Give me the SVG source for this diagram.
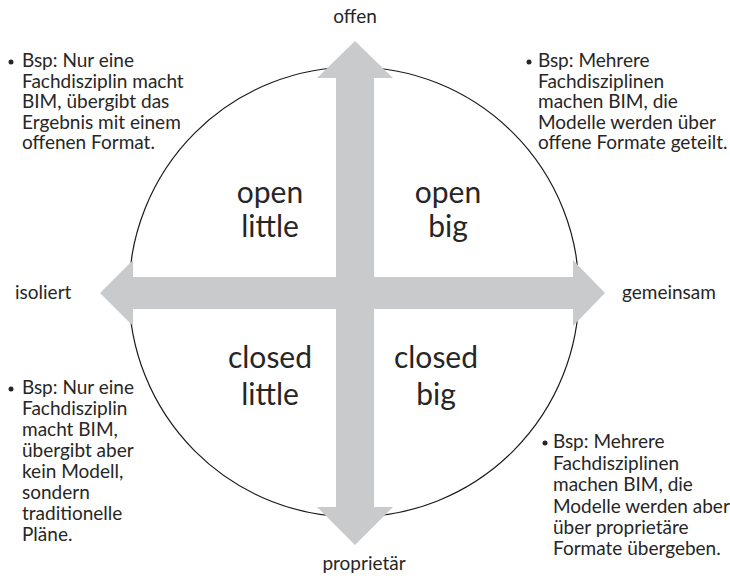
<svg xmlns="http://www.w3.org/2000/svg" width="730" height="578" viewBox="0 0 730 578">
<style>
.t{font-family:Lato,"Open Sans","Liberation Sans",sans-serif;fill:#262626;font-size:19px}
.big{font-family:Lato,"Open Sans","Liberation Sans",sans-serif;fill:#262626;font-size:30px;text-anchor:middle}
.arrow{fill:#c9cacc}
.dot{fill:#262626}
</style>
<rect width="730" height="578" fill="#ffffff"/>
<g id="circle"><circle cx="354" cy="292" r="225" fill="none" stroke="#1a1a1a" stroke-width="1.2"/></g>
<g id="connectors">
<polygon class="arrow" points="355,41 393,78 374,78 374,507 393,507 355,545 317,507 336,507 336,78 317,78"/>
<polygon class="arrow" points="100,293 133,260 133,277 573,277 573,260 605,293 573,326 573,309 133,309 133,326"/>
</g>
<g id="open-little"><text class="big"><tspan x="270" y="203">open</tspan><tspan x="270" y="237">little</tspan></text></g>
<g id="open-big"><text class="big"><tspan x="448" y="203">open</tspan><tspan x="448" y="237">big</tspan></text></g>
<g id="closed-little"><text class="big"><tspan x="270" y="368">closed</tspan><tspan x="270" y="405">little</tspan></text></g>
<g id="closed-big"><text class="big"><tspan x="436" y="368">closed</tspan><tspan x="436" y="405">big</tspan></text></g>
<g id="label-offen"><text class="t" x="355" y="23" text-anchor="middle">offen</text></g>
<g id="label-proprietaer"><text class="t" x="364" y="570" text-anchor="middle">proprietär</text></g>
<g id="label-isoliert"><text class="t" x="15" y="299">isoliert</text></g>
<g id="label-gemeinsam"><text class="t" x="622" y="299">gemeinsam</text></g>
<g id="note-tl">
<circle class="dot" cx="11" cy="62" r="2.5"/>
<text class="t"><tspan x="22" y="67">Bsp: Nur eine</tspan><tspan x="22" y="87.5">Fachdisziplin macht</tspan><tspan x="22" y="108">BIM, übergibt das</tspan><tspan x="22" y="128.5">Ergebnis mit einem</tspan><tspan x="22" y="149">offenen Format.</tspan></text>
</g>
<g id="note-tr">
<circle class="dot" cx="529" cy="62" r="2.5"/>
<text class="t"><tspan x="538" y="67">Bsp: Mehrere</tspan><tspan x="538" y="87.5">Fachdisziplinen</tspan><tspan x="538" y="108">machen BIM, die</tspan><tspan x="538" y="128.5">Modelle werden über</tspan><tspan x="538" y="149">offene Formate geteilt.</tspan></text>
</g>
<g id="note-bl">
<circle class="dot" cx="11" cy="389" r="2.5"/>
<text class="t"><tspan x="22" y="394">Bsp: Nur eine</tspan><tspan x="22" y="415">Fachdisziplin</tspan><tspan x="22" y="436">macht BIM,</tspan><tspan x="22" y="457">übergibt aber</tspan><tspan x="22" y="478">kein Modell,</tspan><tspan x="22" y="499">sondern</tspan><tspan x="22" y="520">traditionelle</tspan><tspan x="22" y="541">Pläne.</tspan></text>
</g>
<g id="note-br">
<circle class="dot" cx="545" cy="443" r="2.5"/>
<text class="t"><tspan x="553" y="448">Bsp: Mehrere</tspan><tspan x="553" y="469.5">Fachdisziplinen</tspan><tspan x="553" y="491">machen BIM, die</tspan><tspan x="553" y="512.5">Modelle werden aber</tspan><tspan x="553" y="534">über proprietäre</tspan><tspan x="553" y="555">Formate übergeben.</tspan></text>
</g>
</svg>
